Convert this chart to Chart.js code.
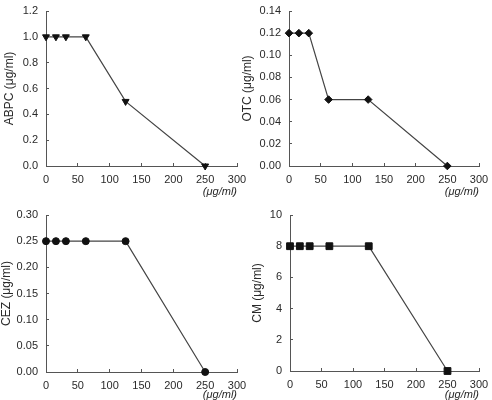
<!DOCTYPE html>
<html>
<head>
<meta charset="utf-8">
<script src="https://cdn.jsdelivr.net/npm/chart.js@4.4.1/dist/chart.umd.min.js"></script>
<style>
    html, body { margin: 0; padding: 0; background: #fff; width: 492px; height: 400px; overflow: hidden; }
    canvas { position: absolute; }
</style>
</head>
<body>
<canvas id="grafica_abpc" width="246" height="200" style="left:0;top:0"></canvas>
<canvas id="grafica_otc"  width="256" height="200" style="left:236px;top:0"></canvas>
<canvas id="grafica_cez"  width="246" height="200" style="left:0;top:200px"></canvas>
<canvas id="grafica_cm"   width="256" height="200" style="left:236px;top:200px"></canvas>
<script>
/* concentrations (x) shared by all four panels */
const concentraciones = [0, 15.6, 31.25, 62.5, 125, 250];
const ticks_x = [0, 50, 100, 150, 200, 250, 300];

/* measured values per antibiotic */
const valores_abpc = [1.0, 1.0, 1.0, 1.0, 0.5, 0.0];
const valores_otc  = [0.12, 0.12, 0.12, 0.06, 0.06, 0.0];
const valores_cez  = [0.25, 0.25, 0.25, 0.25, 0.25, 0.0];
const valores_cm   = [8, 8, 8, 8, 8, 0];

/* y tick labels per panel */
const ticks_abpc = ['0.0', '0.2', '0.4', '0.6', '0.8', '1.0', '1.2'];
const ticks_otc  = ['0.00', '0.02', '0.04', '0.06', '0.08', '0.10', '0.12', '0.14'];
const ticks_cez  = ['0.00', '0.05', '0.10', '0.15', '0.20', '0.25', '0.30'];
const ticks_cm   = ['0', '2', '4', '6', '8', '10'];

const fuente = { family: '"Liberation Sans", Arial, sans-serif', size: 11 };
const color_texto = '#2a2a2a';
const color_eje   = '#555';

/* builds one panel; area = pixel box of the plot inside its canvas */
function crear_panel(id, titulo_y, valores, etiquetas_y, punto, area) {
    const y_ticks = etiquetas_y.map(Number);
    const y_max = y_ticks[y_ticks.length - 1];
    const lienzo = document.getElementById(id);

    return new Chart(lienzo, {
        type: 'line',
        data: {
            datasets: [{
                data: concentraciones.map((x, i) => ({ x: x, y: valores[i] })),
                borderColor: '#444',
                borderWidth: 1.2,
                pointStyle: punto.estilo,
                pointRotation: punto.rotacion,
                pointRadius: punto.radio,
                pointBackgroundColor: '#111',
                pointBorderColor: '#111',
                pointBorderWidth: 1,
                tension: 0,
                clip: false
            }]
        },
        options: {
            responsive: false,
            animation: false,
            events: [],
            layout: { padding: { top: area.top, right: lienzo.width - area.right, left: 0, bottom: 0 } },
            plugins: { legend: { display: false }, tooltip: { enabled: false } },
            scales: {
                x: {
                    type: 'linear',
                    min: ticks_x[0],
                    max: ticks_x[ticks_x.length - 1],
                    afterBuildTicks: s => { s.ticks = ticks_x.map(v => ({ value: v })); },
                    /* fixed box size, no extra label padding */
                    afterFit: s => {
                        s.height = lienzo.height - area.bottom;
                        s.paddingLeft = 0; s.paddingRight = 0;
                    },
                    ticks: { color: color_texto, font: fuente, padding: 10, maxRotation: 0, autoSkip: false },
                    grid: { drawOnChartArea: false, tickLength: -3, color: color_eje, tickColor: color_eje },
                    border: { color: color_eje, width: 1 },
                    title: {
                        display: true, text: '(μg/ml)', align: 'end', color: color_texto,
                        font: { ...fuente, style: 'italic', lineHeight: 1 },
                        padding: { top: 0, bottom: area.titulo_x_abajo }
                    }
                },
                y: {
                    type: 'linear',
                    min: 0,
                    max: y_max,
                    afterBuildTicks: s => { s.ticks = y_ticks.map(v => ({ value: v })); },
                    afterFit: s => {
                        s.width = area.left;
                        s.paddingTop = 0; s.paddingBottom = 0;
                    },
                    ticks: {
                        color: color_texto, font: fuente, padding: 11,
                        callback: (v, i) => etiquetas_y[i]
                    },
                    grid: { drawOnChartArea: false, tickLength: -3, color: color_eje, tickColor: color_eje },
                    border: { color: color_eje, width: 1 },
                    title: {
                        display: true, text: titulo_y, color: color_texto,
                        font: { ...fuente, size: 12, lineHeight: 1 },
                        padding: { top: area.titulo_y - 6, bottom: 0 }
                    }
                }
            }
        }
    });
}

crear_panel('grafica_abpc', 'ABPC (μg/ml)', valores_abpc, ticks_abpc,
    { estilo: 'triangle', rotacion: 180, radio: 4 },
    { left: 46, right: 237, top: 11, bottom: 166, titulo_y: 10, titulo_x_abajo: 2.5 });

crear_panel('grafica_otc', 'OTC (μg/ml)', valores_otc, ticks_otc,
    { estilo: 'rectRot', rotacion: 0, radio: 3.8 },
    { left: 53, right: 243, top: 11, bottom: 166, titulo_y: 12, titulo_x_abajo: 2.5 });

crear_panel('grafica_cez', 'CEZ (μg/ml)', valores_cez, ticks_cez,
    { estilo: 'circle', rotacion: 0, radio: 3.5 },
    { left: 46, right: 237, top: 15, bottom: 172, titulo_y: 7, titulo_x_abajo: 0 });

crear_panel('grafica_cm', 'CM (μg/ml)', valores_cm, ticks_cm,
    { estilo: 'rect', rotacion: 0, radio: 4.8 },
    { left: 54, right: 243, top: 15, bottom: 171, titulo_y: 22, titulo_x_abajo: 0 });
</script>
</body>
</html>
